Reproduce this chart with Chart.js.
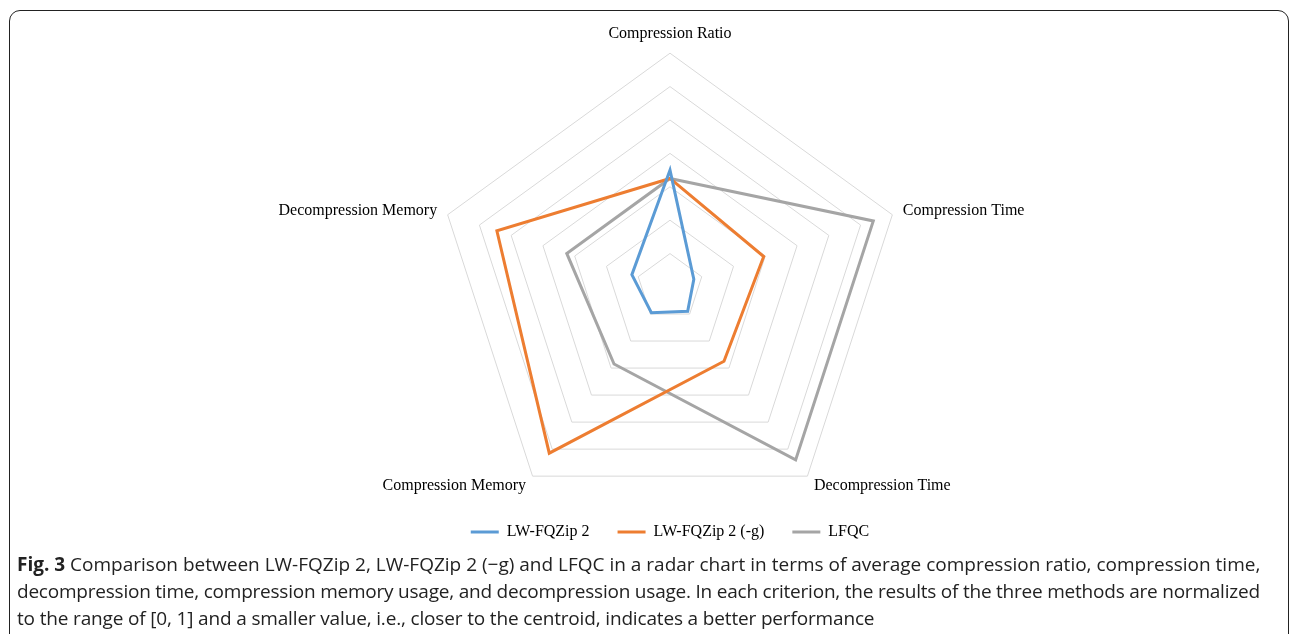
<!DOCTYPE html>
<html>
<head>
<meta charset="utf-8">
<script src="https://cdn.jsdelivr.net/npm/chart.js@4"></script>
<style>
  body { margin: 0; background: #fff; width: 1292px; height: 634px; overflow: hidden; position: relative; }
  .frame { position: absolute; left: 9px; top: 10px; width: 1280px; height: 660px; border: 1.5px solid #222; border-radius: 11px; box-sizing: border-box; }
  .wrap { position: absolute; left: 30px; top: 10px; width: 1280px; height: 580px; }
  .caption { position: absolute; left: 17px; top: 551px; font-family: "Open Sans", sans-serif; font-size: 19px; line-height: 27px; color: #222; white-space: nowrap; }
  .caption b { font-weight: 700; }
  .l2 { letter-spacing: -0.22px; }
  .l3 { letter-spacing: -0.16px; }
</style>
</head>
<body>
<div class="frame"></div>
<div class="wrap"><canvas id="radarChart"></canvas></div>
<div class="caption" id="cap">
<b>Fig. 3</b> Comparison between LW-FQZip 2, LW-FQZip 2 (−g) and LFQC in a radar chart in terms of average compression ratio, compression time,<br>
<span class="l2">decompression time, compression memory usage, and decompression usage. In each criterion, the results of the three methods are normalized</span><br>
<span class="l3">to the range of [0, 1] and a smaller value, i.e., closer to the centroid, indicates a better performance</span>
</div>
<script>
const criteria = ['Compression Ratio', 'Compression Time', 'Decompression Time', 'Compression Memory', 'Decompression Memory'];
const seriesNames = ['LW-FQZip 2', 'LW-FQZip 2 (-g)', 'LFQC'];
const lwFqzip2 = [0.70, 0.15, 0.18, 0.19, 0.24];
const lwFqzip2g = [0.65, 0.59, 0.55, 1.23, 1.09];
const lfqc = [0.65, 1.28, 1.28, 0.57, 0.65];
const colors = ['#5b9bd5', '#ed7d31', '#a5a5a5'];

// pull the legend up so it sits just under the bottom labels, like in the figure
const legendLift = 40;
const liftLegend = {
    id: 'liftLegend',
    afterLayout(chart) {
        if (chart.legend) {
            chart.legend.top -= legendLift;
            chart.legend.bottom -= legendLift;
        }
    }
};

const ctx = document.getElementById('radarChart').getContext('2d');

const chart = new Chart(ctx, {
    type: 'radar',
    data: {
        labels: criteria,
        datasets: [lwFqzip2, lwFqzip2g, lfqc].map((vals, i) => ({
            label: seriesNames[i],
            data: vals,
            borderColor: colors[i],
            backgroundColor: colors[i],
            borderWidth: 3,
            borderJoinStyle: 'miter',
            fill: false,
            pointRadius: 0,
            pointHoverRadius: 0
        }))
    },
    options: {
        responsive: true,
        maintainAspectRatio: false,
        animation: false,
        plugins: {
            legend: {
                position: 'bottom',
                labels: {
                    usePointStyle: true,
                    pointStyle: 'line',
                    pointStyleWidth: 28,
                    padding: 28,
                    color: '#000',
                    font: { family: 'Liberation Serif', size: 16 }
                }
            },
            tooltip: { enabled: false }
        },
        scales: {
            r: {
                min: 0,
                max: 1.4,
                ticks: { stepSize: 0.2, display: false },
                grid: { color: '#d9d9d9', lineWidth: 1 },
                angleLines: { display: false },
                pointLabels: {
                    color: '#000',
                    // top label sits above its corner, the others hug their corners
                    padding: c => [10, 11, 11, 11, 11][c.index],
                    font: c => ({
                        family: 'Liberation Serif',
                        size: 16,
                        lineHeight: c.index === 0 ? 1.2 : 0.1
                    })
                }
            }
        }
    },
    plugins: [liftLegend]
});
</script>
</body>
</html>
